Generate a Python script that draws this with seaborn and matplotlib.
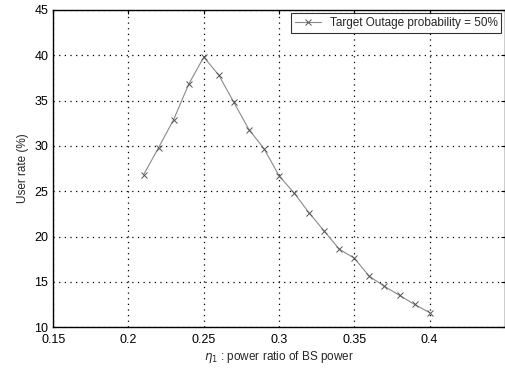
import numpy as np
import pandas as pd
import matplotlib
matplotlib.use("Agg")
import matplotlib.pyplot as plt
import seaborn as sns

# data
power_ratio = [0.21, 0.22, 0.23, 0.24, 0.25, 0.26, 0.27, 0.28, 0.29, 0.30,
               0.31, 0.32, 0.33, 0.34, 0.35, 0.36, 0.37, 0.38, 0.39, 0.40]
user_rate = [26.8, 29.8, 32.9, 36.8, 39.8, 37.8, 34.8, 31.8, 29.7, 26.7,
             24.8, 22.6, 20.6, 18.6, 17.6, 15.6, 14.5, 13.5, 12.5, 11.6]
x_ticks = [0.15, 0.2, 0.25, 0.3, 0.35, 0.4]
y_ticks = [10, 15, 20, 25, 30, 35, 40, 45]

df = pd.DataFrame({"ratio": power_ratio, "rate": user_rate})

sns.set_style("white")
plt.rcParams['font.family'] = ['Liberation Sans', 'DejaVu Sans']
plt.rcParams['xtick.direction'] = 'in'
plt.rcParams['ytick.direction'] = 'in'

fig = plt.figure(figsize=(5.06, 3.68), dpi=100)
ax = fig.add_axes([0.105, 0.111, 0.893, 0.862])

sns.lineplot(data=df, x="ratio", y="rate", ax=ax, color="#8a8a8a", linewidth=0.8,
             marker="x", markersize=4.5, markeredgecolor="#555555", markeredgewidth=0.7,
             label="Target Outage probability = 50%")

ax.set_xlim(0.15, 0.45)
ax.set_ylim(10, 45)
ax.set_xticks(x_ticks)
ax.set_xticklabels(["0.15", "0.2", "0.25", "0.3", "0.35", "0.4"])
ax.set_yticks(y_ticks)
ax.tick_params(labelsize=9, length=3, colors="black", top=True, right=True)
ax.tick_params(axis="x", pad=5)
ax.grid(True, linestyle=(0, (1, 3.5)), color="black", linewidth=0.9)
for s in ax.spines.values():
    s.set_color("black")
    s.set_linewidth(1.0)

ax.set_xlabel(r"$\eta_1$ : power ratio of BS power", fontsize=8.5, labelpad=2)
ax.set_ylabel("User rate (%)", fontsize=8.5, labelpad=4)

leg = ax.legend(loc="upper right", fontsize=8.5, frameon=True, fancybox=False,
                borderaxespad=0.3, handlelength=2.2, borderpad=0.3)
leg.get_frame().set_edgecolor("black")
leg.get_frame().set_linewidth(0.8)

fig.savefig("out.png", dpi=100)
